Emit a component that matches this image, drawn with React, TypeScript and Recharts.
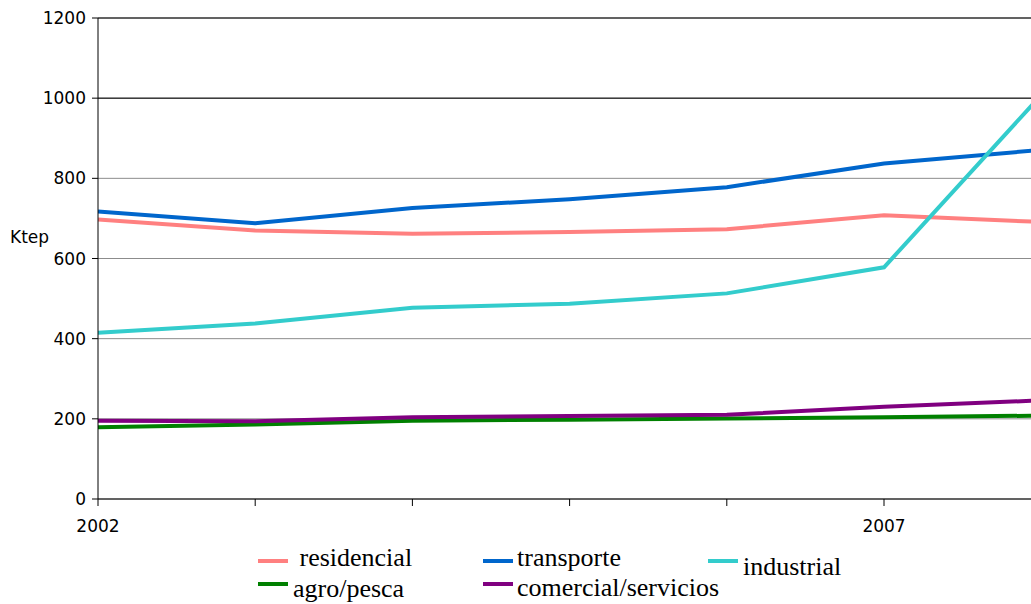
import { LineChart, Line, XAxis, YAxis, CartesianGrid, ReferenceLine } from 'recharts';

const years = [2002, 2003, 2004, 2005, 2006, 2007, 2008];
const residencial = [697, 670, 662, 666, 673, 708, 691];
const transporte = [717, 688, 726, 748, 778, 837, 871];
const industrial = [415, 438, 477, 487, 513, 578, 1008];
const agroPesca = [179, 186, 195, 198, 201, 204, 208];
const comercialServicios = [195, 194, 204, 207, 210, 230, 246];

const yTicks = [0, 200, 400, 600, 800, 1000, 1200];
const xTicks = [2002, 2003, 2004, 2005, 2006, 2007];
const xLabels = [2002, 2007];

const series = [
    { key: 'residencial', label: '\u00a0residencial', color: '#ff8080', values: residencial },
    { key: 'transporte', label: 'transporte', color: '#0066cc', values: transporte },
    { key: 'industrial', label: 'industrial', color: '#33cccc', values: industrial },
    { key: 'agro', label: 'agro/pesca', color: '#008000', values: agroPesca },
    { key: 'comercial', label: 'comercial/servicios', color: '#800080', values: comercialServicios },
];

// legend placement (page px): swatch left / centre y, text left / baseline
const legendLayout: Record<string, { sx: number; sy: number; tx: number; base: number }> = {
    residencial: { sx: 258, sy: 561, tx: 293, base: 567 },
    transporte: { sx: 483, sy: 561, tx: 517, base: 567 },
    industrial: { sx: 708, sy: 561, tx: 743, base: 576 },
    agro: { sx: 258, sy: 584, tx: 293, base: 598 },
    comercial: { sx: 483, sy: 584, tx: 517, base: 597 },
};

const chartData = years.map((year, i) => {
    const row: Record<string, number> = { year };
    series.forEach((s) => {
        row[s.key] = s.values[i];
    });
    return row;
});

const axisFont = { fontFamily: 'DejaVu Sans', fontSize: 17, fill: '#000' };

function KtepLabel({ viewBox }: any) {
    return (
        <text
            x={viewBox.x + 10}
            y={viewBox.y + viewBox.height / 2 - 22}
            dominantBaseline="central"
            fontFamily="DejaVu Sans"
            fontSize={17}
            fill="#000"
        >
            Ktep
        </text>
    );
}

export default function App() {
    return (
        <div style={{ position: 'absolute', left: 0, top: 0, width: 1031, height: 604, overflow: 'hidden' }}>
            <LineChart width={1031} height={604} data={chartData} margin={{ top: 18, right: 0, left: 0, bottom: 0 }}>
                <CartesianGrid vertical={false} stroke="#8c8c8c" strokeWidth={1} />
                <ReferenceLine y={1000} stroke="#000" />
                <ReferenceLine y={1200} stroke="#000" />
                <XAxis
                    type="number"
                    dataKey="year"
                    domain={[2002, 2007.935]}
                    allowDataOverflow
                    ticks={xTicks}
                    interval={0}
                    tickFormatter={(v: number) => (xLabels.includes(v) ? String(v) : '')}
                    tick={axisFont}
                    tickSize={7}
                    tickMargin={14}
                    height={105}
                    stroke="#000"
                    tickLine={{ stroke: '#000' }}
                />
                <YAxis
                    domain={[0, 1200]}
                    ticks={yTicks}
                    interval={0}
                    tick={axisFont}
                    tickSize={6}
                    tickMargin={6}
                    width={98}
                    stroke="#000"
                    tickLine={{ stroke: '#000' }}
                    label={{ content: KtepLabel }}
                />
                {series.map((s) => (
                    <Line
                        key={s.key}
                        type="linear"
                        dataKey={s.key}
                        stroke={s.color}
                        strokeWidth={4}
                        dot={false}
                        activeDot={false}
                        isAnimationActive={false}
                    />
                ))}
            </LineChart>
            {series.map((s) => {
                const p = legendLayout[s.key];
                return (
                    <div key={s.key}>
                        <div
                            style={{
                                position: 'absolute',
                                left: p.sx,
                                top: p.sy - 2,
                                width: 30,
                                height: 4,
                                background: s.color,
                            }}
                        />
                        <div
                            style={{
                                position: 'absolute',
                                left: p.tx,
                                top: p.base - 22,
                                lineHeight: '26px',
                                fontFamily: 'Liberation Serif',
                                fontSize: 26,
                                color: '#000',
                                whiteSpace: 'nowrap',
                            }}
                        >
                            {s.label}
                        </div>
                    </div>
                );
            })}
        </div>
    );
}
